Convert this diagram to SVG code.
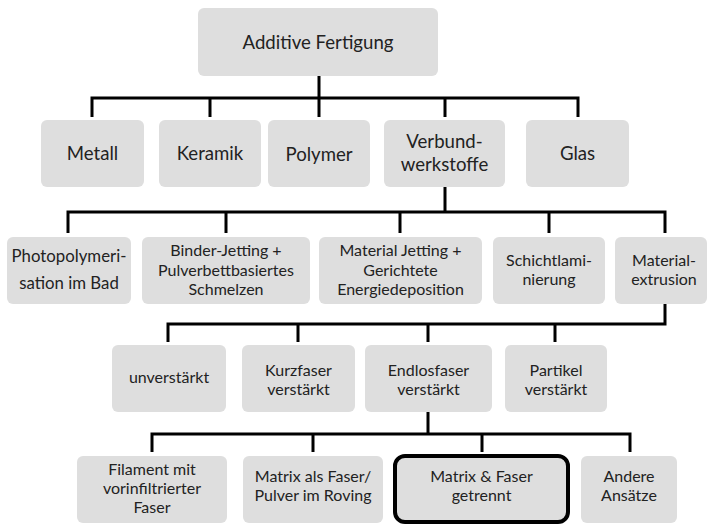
<svg xmlns="http://www.w3.org/2000/svg" width="708" height="526" viewBox="0 0 708 526">
<style>
.box{fill:#dedede;}
.hl{fill:#dedede;stroke:#000;stroke-width:4;}
text{font-family:Lato,"Open Sans",sans-serif;fill:#222;text-anchor:middle;}
.t19{font-size:18.6px}
.t17{font-size:16.8px}
.t16{font-size:16px}
.conn{fill:none;stroke:#000;stroke-width:3;stroke-linejoin:miter;stroke-linecap:butt}
</style>
<rect width="708" height="526" fill="#fff"/>
<g id="connectors" class="conn">
<path d="M319,76 V117 M92,117 V98 H578 V117 M210,98 V117 M445,98 V117"/>
<path d="M445,187 V212 M68,233 V212 H665 V233 M226,212 V233 M400,212 V233 M549,212 V233"/>
<path d="M665,304 V324 H168 V342 M298,324 V342 M428,324 V342 M555,324 V342"/>
<path d="M428,412 V434 M152,452 V434 H630 V452 M313,434 V452 M482,434 V452"/>
</g>
<g id="n-root"><rect class="box" x="198" y="8" width="240" height="68" rx="6"/><text class="t19" x="318" y="49">Additive Fertigung</text></g>
<g id="n-metall"><rect class="box" x="41" y="120" width="103" height="67" rx="6"/><text class="t19" x="92.5" y="159.5">Metall</text></g>
<g id="n-keramik"><rect class="box" x="159" y="120" width="102" height="67" rx="6"/><text class="t19" x="210" y="159.5">Keramik</text></g>
<g id="n-polymer"><rect class="box" x="268" y="120" width="102" height="67" rx="6"/><text class="t19" x="319" y="160.5">Polymer</text></g>
<g id="n-verbund"><rect class="box" x="384" y="120" width="121" height="67" rx="6"/><text class="t19" x="444.5" y="148.3">Verbund-</text><text class="t19" x="444.5" y="170.7">werkstoffe</text></g>
<g id="n-glas"><rect class="box" x="526" y="120" width="103" height="67" rx="6"/><text class="t19" x="577.5" y="159.5">Glas</text></g>
<g id="n-photo"><rect class="box" x="7" y="237" width="124" height="67" rx="6"/><text class="t17" x="69" y="262">Photopolymeri-</text><text class="t17" x="69" y="289">sation im Bad</text></g>
<g id="n-binder"><rect class="box" x="142" y="237" width="168" height="67" rx="6"/><text class="t16" x="226" y="256.3">Binder-Jetting +</text><text class="t16" x="226" y="275.5">Pulverbettbasiertes</text><text class="t16" x="226" y="294.7">Schmelzen</text></g>
<g id="n-matjet"><rect class="box" x="319" y="237" width="163" height="67" rx="6"/><text class="t16" x="400.5" y="256.3">Material Jetting +</text><text class="t16" x="400.5" y="275.5">Gerichtete</text><text class="t16" x="400.5" y="294.7">Energiedeposition</text></g>
<g id="n-schicht"><rect class="box" x="493" y="237" width="112" height="67" rx="6"/><text class="t16" x="549" y="265.7">Schichtlami-</text><text class="t16" x="549" y="284.9">nierung</text></g>
<g id="n-matext"><rect class="box" x="615" y="237" width="92" height="67" rx="6"/><text class="t16" x="664" y="265.7">Material-</text><text class="t16" x="664" y="284.9">extrusion</text></g>
<g id="n-unverst"><rect class="box" x="112" y="345" width="114" height="67" rx="6"/><text class="t16" x="169" y="383">unverstärkt</text></g>
<g id="n-kurz"><rect class="box" x="242" y="345" width="113" height="67" rx="6"/><text class="t16" x="298.5" y="375.7">Kurzfaser</text><text class="t16" x="298.5" y="394.9">verstärkt</text></g>
<g id="n-endlos"><rect class="box" x="365" y="345" width="127" height="67" rx="6"/><text class="t16" x="428.5" y="375.7">Endlosfaser</text><text class="t16" x="428.5" y="394.9">verstärkt</text></g>
<g id="n-partikel"><rect class="box" x="505" y="345" width="102" height="67" rx="6"/><text class="t16" x="556" y="375.7">Partikel</text><text class="t16" x="556" y="394.9">verstärkt</text></g>
<g id="n-filament"><rect class="box" x="77" y="456" width="150" height="67" rx="6"/><text class="t16" x="152" y="474.5">Filament mit</text><text class="t16" x="152" y="493.7">vorinfiltrierter</text><text class="t16" x="152" y="512.9">Faser</text></g>
<g id="n-matrixals"><rect class="box" x="243" y="456" width="140" height="67" rx="6"/><text class="t16" x="313" y="481.5">Matrix als Faser/</text><text class="t16" x="313" y="500.7">Pulver im Roving</text></g>
<g id="n-getrennt"><rect class="hl" x="395" y="456" width="173" height="66" rx="10"/><text class="t16" x="481.5" y="481.5">Matrix &amp; Faser</text><text class="t16" x="481.5" y="500.7">getrennt</text></g>
<g id="n-andere"><rect class="box" x="581" y="456" width="96" height="67" rx="6"/><text class="t16" x="629" y="481.5">Andere</text><text class="t16" x="629" y="500.7">Ansätze</text></g>
</svg>
